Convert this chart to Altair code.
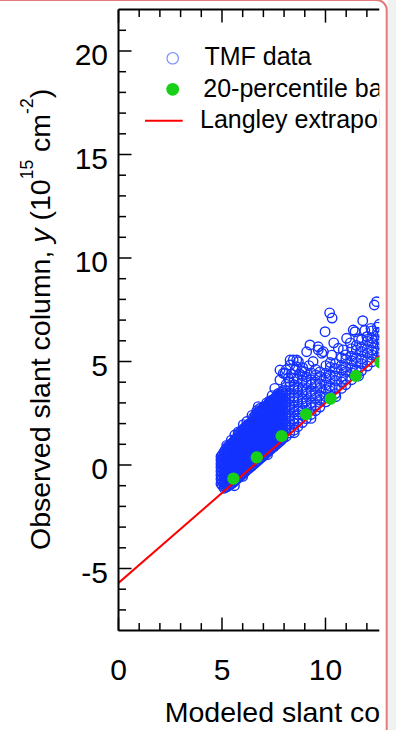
import altair as alt
import pandas as pd

# ---------------- data ----------------
# dense core of the TMF cloud: column x -> list of y values
dense_x = [4.95, 5.10, 5.25, 5.40, 5.55, 5.70, 5.85, 6.00, 6.15, 6.30, 6.45,
           6.60, 6.75, 6.90, 7.05, 7.20, 7.35, 7.50, 7.65, 7.80, 7.95]
dense_y = [
    [-0.90, -0.68, -0.49, -0.30, -0.11, 0.06, 0.24, 0.40],
    [-1.12, -0.93, -0.76, -0.57, -0.40, -0.21, -0.03, 0.15, 0.31, 0.50, 0.63],
    [-1.05, -0.86, -0.69, -0.50, -0.33, -0.15, 0.03, 0.20, 0.37, 0.55, 0.71, 0.84],
    [-0.95, -0.77, -0.57, -0.41, -0.22, -0.05, 0.12, 0.32, 0.48, 0.64, 0.80, 0.99],
    [-0.84, -0.64, -0.46, -0.28, -0.09, 0.07, 0.26, 0.44, 0.60, 0.79, 0.95, 1.12],
    [-0.70, -0.51, -0.33, -0.13, 0.05, 0.21, 0.41, 0.58, 0.75, 0.92, 1.09, 1.27],
    [-0.57, -0.38, -0.19, -0.01, 0.17, 0.34, 0.52, 0.69, 0.87, 1.04, 1.22, 1.40, 1.55],
    [-0.44, -0.25, -0.07, 0.11, 0.30, 0.46, 0.65, 0.81, 1.00, 1.16, 1.35, 1.52, 1.70],
    [-0.30, -0.11, 0.08, 0.24, 0.42, 0.61, 0.77, 0.96, 1.12, 1.31, 1.47, 1.66, 1.86],
    [-0.17, 0.02, 0.19, 0.37, 0.56, 0.72, 0.91, 1.07, 1.26, 1.42, 1.61, 1.79, 1.98],
    [-0.04, 0.14, 0.32, 0.51, 0.67, 0.86, 1.02, 1.21, 1.37, 1.56, 1.72, 1.91, 2.08],
    [0.09, 0.28, 0.45, 0.63, 0.81, 0.98, 1.16, 1.33, 1.52, 1.68, 1.87, 2.03, 2.22, 2.40],
    [0.22, 0.41, 0.58, 0.77, 0.93, 1.12, 1.28, 1.47, 1.63, 1.82, 1.98, 2.17, 2.35, 2.55],
    [0.36, 0.54, 0.72, 0.89, 1.07, 1.25, 1.42, 1.60, 1.78, 1.95, 2.13, 2.30, 2.48, 2.62],
    [0.48, 0.67, 0.84, 1.03, 1.19, 1.38, 1.54, 1.73, 1.90, 2.08, 2.25, 2.43, 2.60, 2.76],
    [0.62, 0.80, 0.98, 1.15, 1.33, 1.50, 1.68, 1.86, 2.03, 2.21, 2.38, 2.56, 2.74, 2.90],
    [0.75, 0.93, 1.11, 1.29, 1.46, 1.64, 1.81, 1.99, 2.17, 2.34, 2.52, 2.70, 2.87, 3.05],
    [0.88, 1.06, 1.24, 1.42, 1.59, 1.77, 1.95, 2.12, 2.30, 2.47, 2.65, 2.83, 3.00, 3.18],
    [1.01, 1.20, 1.37, 1.55, 1.73, 1.90, 2.08, 2.26, 2.43, 2.61, 2.79, 2.96, 3.14, 3.32],
    [1.14, 1.32, 1.50, 1.68, 1.86, 2.03, 2.21, 2.39, 2.56, 2.74, 2.92, 3.10, 3.27, 3.45],
    [1.28, 1.46, 1.64, 1.81, 1.99, 2.17, 2.34, 2.52, 2.70, 2.87, 3.05, 3.23, 3.41, 3.60],
]
# second set of dense-core columns (between the ones above)
dense2_x = [5.02, 5.17, 5.32, 5.47, 5.62, 5.77, 5.92, 6.07, 6.22, 6.37,
            6.52, 6.67, 6.82, 6.97, 7.12, 7.27, 7.42, 7.57, 7.72, 7.87]
dense2_y = [
    [-1.00, -0.82, -0.60, -0.41, -0.20, -0.02, 0.14, 0.33, 0.50],
    [-1.08, -0.86, -0.66, -0.48, -0.27, -0.10, 0.10, 0.26, 0.44, 0.60, 0.74],
    [-1.00, -0.79, -0.60, -0.43, -0.24, -0.06, 0.13, 0.28, 0.46, 0.63, 0.79, 0.92],
    [-0.90, -0.70, -0.50, -0.33, -0.14, 0.03, 0.21, 0.40, 0.56, 0.72, 0.90, 1.05],
    [-0.77, -0.56, -0.38, -0.20, -0.01, 0.16, 0.34, 0.52, 0.69, 0.86, 1.03, 1.20],
    [-0.63, -0.44, -0.24, -0.06, 0.12, 0.30, 0.49, 0.66, 0.83, 1.00, 1.17, 1.33, 1.47],
    [-0.50, -0.30, -0.12, 0.06, 0.24, 0.41, 0.60, 0.76, 0.94, 1.11, 1.29, 1.46, 1.62],
    [-0.37, -0.17, 0.00, 0.19, 0.36, 0.55, 0.72, 0.90, 1.07, 1.25, 1.42, 1.60, 1.77],
    [-0.23, -0.04, 0.14, 0.31, 0.50, 0.68, 0.85, 1.03, 1.20, 1.38, 1.56, 1.74, 1.92],
    [-0.10, 0.09, 0.27, 0.45, 0.63, 0.80, 0.98, 1.16, 1.34, 1.51, 1.69, 1.87, 2.03],
    [0.03, 0.21, 0.39, 0.57, 0.75, 0.93, 1.10, 1.28, 1.46, 1.63, 1.81, 1.98, 2.16, 2.30],
    [0.16, 0.35, 0.52, 0.70, 0.88, 1.06, 1.24, 1.41, 1.59, 1.77, 1.94, 2.12, 2.30, 2.47],
    [0.30, 0.48, 0.66, 0.83, 1.01, 1.19, 1.37, 1.54, 1.72, 1.90, 2.07, 2.25, 2.42, 2.58],
    [0.42, 0.61, 0.79, 0.96, 1.14, 1.32, 1.50, 1.67, 1.85, 2.03, 2.20, 2.38, 2.55, 2.70],
    [0.56, 0.74, 0.92, 1.09, 1.27, 1.45, 1.62, 1.80, 1.98, 2.15, 2.33, 2.51, 2.68, 2.84],
    [0.69, 0.87, 1.05, 1.22, 1.40, 1.58, 1.75, 1.93, 2.11, 2.28, 2.46, 2.64, 2.81, 2.98],
    [0.82, 1.00, 1.18, 1.35, 1.53, 1.71, 1.88, 2.06, 2.24, 2.41, 2.59, 2.77, 2.94, 3.12],
    [0.95, 1.13, 1.31, 1.49, 1.66, 1.84, 2.02, 2.19, 2.37, 2.55, 2.72, 2.90, 3.08, 3.25],
    [1.08, 1.26, 1.44, 1.62, 1.79, 1.97, 2.15, 2.32, 2.50, 2.68, 2.85, 3.03, 3.21, 3.38],
    [1.21, 1.39, 1.57, 1.75, 1.92, 2.10, 2.28, 2.45, 2.63, 2.81, 2.98, 3.16, 3.34, 3.52],
]
# looser part of the cloud
medium_x = [8.10, 8.27, 8.48, 8.66, 8.88, 9.07, 9.31, 9.52, 9.73, 10.02, 10.23,
            10.48, 10.77, 10.98, 11.26, 11.49, 11.74, 12.02, 12.24, 12.51, 12.74]
medium_y = [
    [1.38, 1.70, 1.92, 2.24, 2.45, 2.78, 3.02, 3.35, 3.57, 3.90],
    [1.55, 1.80, 2.12, 2.35, 2.68, 2.90, 3.24, 3.46, 3.80, 4.02],
    [1.68, 2.00, 2.22, 2.56, 2.80, 3.10, 3.32, 3.66, 3.88, 4.20],
    [1.85, 2.14, 2.45, 2.70, 3.04, 3.26, 3.60, 3.80, 4.15],
    [2.05, 2.40, 2.62, 2.97, 3.18, 3.52, 3.74, 4.08, 4.32],
    [2.24, 2.52, 2.86, 3.08, 3.43, 3.64, 3.98, 4.25],
    [2.44, 2.78, 3.00, 3.34, 3.55, 3.90, 4.12, 4.45],
    [2.62, 2.90, 3.24, 3.46, 3.80, 4.00, 4.35, 4.62],
    [2.80, 3.14, 3.36, 3.72, 3.93, 4.28, 4.50],
    [3.05, 3.30, 3.65, 3.87, 4.22, 4.44, 4.80],
    [3.24, 3.58, 3.80, 4.15, 4.36, 4.72, 4.95],
    [3.45, 3.73, 4.08, 4.30, 4.66, 4.90],
    [3.70, 4.02, 4.25, 4.60, 4.82, 5.18],
    [3.88, 4.16, 4.52, 4.74, 5.10, 5.32],
    [4.12, 4.46, 4.68, 5.04, 5.26, 5.62],
    [4.33, 4.60, 4.96, 5.18, 5.55, 5.78],
    [4.55, 4.90, 5.12, 5.48, 5.70, 6.05],
    [4.78, 5.05, 5.40, 5.62, 5.98, 6.20],
    [4.98, 5.32, 5.54, 5.90, 6.12, 6.48],
    [5.20, 5.48, 5.84, 6.06, 6.42, 6.66],
    [5.42, 5.76, 5.98, 6.34],
]
# scattered / outlying TMF points
sparse_x = [5.23, 5.45, 5.62, 5.79, 6.03, 6.20, 6.27, 6.45, 6.68, 6.75, 6.84, 7.00,
            7.16, 7.30, 7.42, 7.55, 7.72, 7.80, 7.80, 7.96, 8.04, 8.10, 8.20, 8.29,
            8.29, 8.35, 8.44, 8.55, 8.60, 8.61, 8.69, 8.75, 8.85, 8.90, 9.00, 9.09,
            9.20, 9.25, 9.40, 9.65, 9.65, 9.82, 9.90, 9.98, 10.20, 10.32, 10.30, 10.40,
            10.62, 10.86, 11.02, 11.20, 11.34, 11.43, 11.60, 11.80, 11.90, 12.00, 12.20,
            12.36, 12.47, 12.60, 8.49, 9.30, 10.50, 11.60, 7.20, 6.00, 5.60]
sparse_y = [0.95, 1.20, 1.45, 1.60, 1.95, 2.10, 1.75, 2.40, 2.62, 2.82, 2.74, 2.80,
            3.00, 3.10, 3.35, 3.70, 3.46, 4.11, 4.59, 4.43, 4.43, 4.60, 4.20, 4.83,
            5.07, 4.40, 5.07, 4.60, 4.75, 5.07, 4.99, 4.40, 4.55, 4.70, 4.50, 5.47,
            4.80, 5.80, 5.00, 5.71, 5.56, 5.40, 5.47, 6.44, 7.35, 7.10, 5.31, 5.90,
            5.64, 5.56, 6.12, 5.90, 6.52, 6.44, 6.10, 6.97, 6.50, 6.20, 6.60,
            7.73, 7.89, 6.80, 1.56, 2.25, 3.30, 4.30, 0.50, -0.55, -1.00]

pct_x = [5.55, 6.68, 7.88, 9.06, 10.25, 11.47, 12.66]
pct_y = [-0.66, 0.37, 1.40, 2.45, 3.20, 4.30, 4.95]

langley_x = [0.0, 13.0]
langley_y = [-5.70, 5.61]

y_major = [-5, 0, 5, 10, 15, 20]
y_minor = [-7, -6, -4, -3, -2, -1, 1, 2, 3, 4, 6, 7, 8, 9, 11, 12, 13, 14,
           16, 17, 18, 19, 21]
x_major = [0, 5, 10]
x_minor = [1, 2, 3, 4, 6, 7, 8, 9, 11, 12]

legend_labels = ["TMF data", "20-percentile based", "Langley extrapolation"]

# ---------------- tables ----------------
tx, ty = [], []
for xs_, ys_ in ((dense_x, dense_y), (dense2_x, dense2_y), (medium_x, medium_y)):
    for cx, col in zip(xs_, ys_):
        tx += [cx] * len(col)
        ty += col
tx += sparse_x
ty += sparse_y
tmf_df = pd.DataFrame({"x": tx, "y": ty})
pct_df = pd.DataFrame({"x": pct_x, "y": pct_y})
lang_df = pd.DataFrame({"x": langley_x, "y": langley_y})
ylab_df = pd.DataFrame({"v": y_major, "t": [str(v) for v in y_major]})
xlab_df = pd.DataFrame({"v": x_major, "t": [str(v) for v in x_major]})
one = pd.DataFrame({"k": [0]})

# ---------------- geometry / style ----------------
FONT = "Liberation Sans"
X_DOM = [0, 12.6]
Y_DOM = [-8, 22]
W = 260.8
H = 621.0
BLUE = "#1432ff"
GREEN = "#19d019"
RED = "#ff0000"

xs = alt.Scale(domain=X_DOM, nice=False, zero=False)
ys = alt.Scale(domain=Y_DOM, nice=False, zero=False)


def X(f):
    return alt.X(f, scale=xs, axis=None)


def Y(f):
    return alt.Y(f, scale=ys, axis=None)


scatter = alt.Chart(tmf_df).mark_point(
    shape="circle", filled=False, size=90, color=BLUE, strokeWidth=1.4, opacity=1, clip=True
).encode(x=X("x:Q"), y=Y("y:Q"))

lang = alt.Chart(lang_df).mark_line(color=RED, strokeWidth=2, clip=True).encode(
    x=X("x:Q"), y=Y("y:Q"))

pct = alt.Chart(pct_df).mark_circle(size=150, color=GREEN, opacity=1, clip=True).encode(
    x=X("x:Q"), y=Y("y:Q"))


def yticks(vals, length):
    return alt.Chart(pd.DataFrame({"v": vals})).mark_rule(color="black", strokeWidth=1.5).encode(
        y=Y("v:Q"), x=alt.value(0), x2=alt.value(length))


def xticks(vals, y0, y1):
    return alt.Chart(pd.DataFrame({"v": vals})).mark_rule(color="black", strokeWidth=1.5).encode(
        x=X("v:Q"), y=alt.value(y0), y2=alt.value(y1))


# frame lines of the plot (left, bottom, top)
left_line = alt.Chart(one).mark_rule(color="black", strokeWidth=2).encode(
    x=alt.value(0), y=alt.value(0), y2=alt.value(H))
bottom_line = alt.Chart(one).mark_rule(color="black", strokeWidth=2).encode(
    x=alt.value(0), x2=alt.value(W), y=alt.value(H))
top_line = alt.Chart(one).mark_rule(color="black", strokeWidth=2).encode(
    x=alt.value(0), x2=alt.value(W), y=alt.value(0))

# tick labels
ylabels = alt.Chart(ylab_df).mark_text(font=FONT, fontSize=30, color="black", align="right",
                                       baseline="alphabetic", dy=14).encode(
    y=Y("v:Q"), x=alt.value(-10.5), text="t:N")
xlabels = alt.Chart(xlab_df).mark_text(font=FONT, fontSize=30, color="black", align="center",
                                       baseline="alphabetic").encode(
    x=X("v:Q"), y=alt.value(670.6), text="t:N")


def txt(s, x, y, size, **kw):
    return alt.Chart(one).mark_text(text=s, font=FONT, fontSize=size, color="black",
                                    baseline="alphabetic", align="left", **kw).encode(
        x=alt.value(x), y=alt.value(y))


# legend
leg_circle = alt.Chart(one).mark_point(shape="circle", filled=False, size=130, color=BLUE,
                                       strokeWidth=1.2, opacity=0.55).encode(
    x=alt.value(54.2), y=alt.value(48.7))
leg_dot = alt.Chart(one).mark_circle(size=165, color=GREEN, opacity=1).encode(
    x=alt.value(54.2), y=alt.value(79.7))
leg_line = alt.Chart(one).mark_rule(color=RED, strokeWidth=2).encode(
    x=alt.value(26.5), x2=alt.value(64.2), y=alt.value(111.1))
leg_t1 = txt(legend_labels[0], 86.0, 55.4, 25, clip=True)
leg_t2 = txt(legend_labels[1], 84.8, 87.1, 25, clip=True)
leg_t3 = txt(legend_labels[2], 81.5, 118.7, 25, clip=True)

# y-axis title (rotated, pieces for italic and superscripts)
TS = 28.5
SS = 17.5
XB = -68.5
XS = -85.5
yt = [
    txt("Observed slant column,", XB, 540.4, TS, angle=270),
    txt("y", XB, 233.1, TS, angle=270, fontStyle="italic"),
    txt("(10", XB, 210.9, TS, angle=270),
    txt("15", XS, 169.7, SS, angle=270),
    txt("cm", XB, 142.3, TS, angle=270),
    txt("-2", XS, 104.3, SS, angle=270),
    txt(")", XB, 88.7, TS, angle=270),
]
# x-axis title
xt = txt("Modeled slant column", 46.2, 712.1, TS)

# screenshot frame on the right
cover = alt.Chart(one).mark_rect(color="white").encode(
    x=alt.value(261.5), x2=alt.value(268.2), y=alt.value(630), y2=alt.value(730))
grey = alt.Chart(one).mark_rect(color="#f1f1f1").encode(
    x=alt.value(269.0), x2=alt.value(290), y=alt.value(-20), y2=alt.value(740))
frame = alt.Chart(one).mark_rect(fillOpacity=0, stroke="#e27c7c", strokeWidth=2,
                                 cornerRadius=10).encode(
    x=alt.value(-140), x2=alt.value(268.2), y=alt.value(-9.6), y2=alt.value(760))

chart = alt.layer(
    scatter, lang, pct,
    yticks(y_major, 13), yticks(y_minor, 7.5),
    xticks(x_major, H, H - 13), xticks(x_minor, H, H - 7.5),
    xticks(x_major, 0, 13), xticks(x_minor, 0, 7.5),
    left_line, bottom_line, top_line, ylabels, xlabels,
    leg_circle, leg_dot, leg_line, leg_t1, leg_t2, leg_t3,
    *yt, xt, cover, grey, frame,
).properties(
    width=W, height=H,
    padding={"left": 118.5, "top": 9.6, "right": 16.7, "bottom": 99.4},
    autosize=alt.AutoSizeParams(type="none"),
    background="white",
).configure(font=FONT).configure_view(stroke=None)

chart.save("out.html", embed_options={"renderer": "svg", "actions": False})
